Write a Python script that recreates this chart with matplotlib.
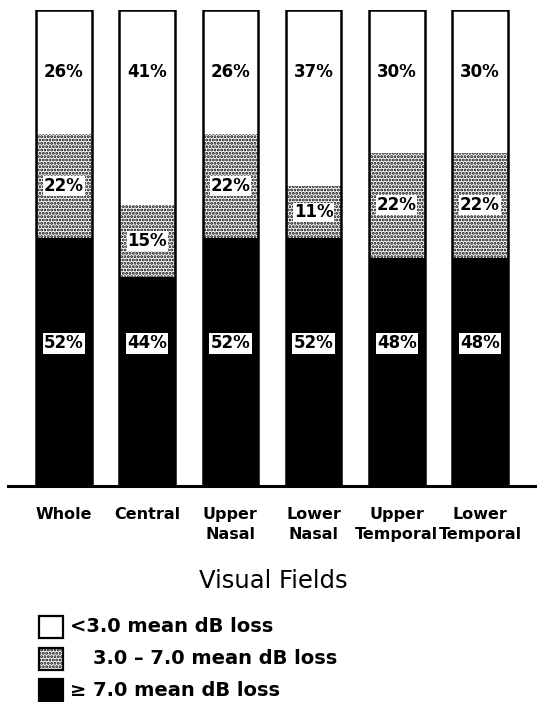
import matplotlib.pyplot as plt
from matplotlib.patches import Rectangle
import numpy as np

plt.rcParams['hatch.linewidth'] = 1.4

# percent of eyes in each loss group, per visual field region
fields = ['Whole', 'Central', 'Upper\nNasal', 'Lower\nNasal', 'Upper\nTemporal', 'Lower\nTemporal']
severe = [52, 44, 52, 52, 48, 48]     # >= 7.0 dB
moderate = [22, 15, 22, 11, 22, 22]   # 3.0 - 7.0 dB
mild = [26, 41, 26, 37, 30, 30]       # < 3.0 dB
legend_labels = ['<3.0 mean dB loss', '3.0 \u2013 7.0 mean dB loss', '\u2265 7.0 mean dB loss']

x = np.arange(len(fields))
severe = np.array(severe)
moderate = np.array(moderate)
mild = np.array(mild)
total = severe + moderate + mild

fig = plt.figure(figsize=(5.42, 7.02), dpi=100)
ax = fig.add_axes([0, 0.3077, 1, 0.6781])

w = 0.67
ax.bar(x, severe, w, color='black', linewidth=0)
ax.bar(x, moderate, w, bottom=severe, color='white', edgecolor='black',
       hatch='.....', linewidth=0)
ax.bar(x, mild, w, bottom=severe + moderate, color='white', linewidth=0)
ax.bar(x, total, w, fill=False, edgecolor='black', linewidth=1.8)

pct_font = dict(family='DejaVu Sans', fontweight='bold', fontsize=12, ha='center', va='center')
for i in x:
    ax.text(i, total[i] - 13, f'{mild[i]}%', **pct_font)
    ax.text(i, severe[i] + moderate[i] / 2, f'{moderate[i]}%',
            bbox=dict(facecolor='white', edgecolor='none', pad=0.5), **pct_font)
    ax.text(i, 30, f'{severe[i]}%',
            bbox=dict(facecolor='white', edgecolor='none', pad=1.0), **pct_font)

ax.set_xlim(-0.769, 5.745)
ax.set_ylim(0, 100)
ax.axhline(0, xmin=8 / 542, xmax=535 / 542, color='black', linewidth=2.2, clip_on=False)
for s in ax.spines.values():
    s.set_visible(False)
ax.set_yticks([])
ax.set_xticks(x)
ax.set_xticklabels(fields, family='DejaVu Sans', fontweight='bold', fontsize=11.5,
                   linespacing=1.45, va='top')
ax.tick_params(axis='x', length=0, pad=15)

fig.text(273 / 542, 1 - 581 / 702, 'Visual Fields', fontsize=17.5, ha='center', va='center',
         family='DejaVu Sans')

# legend keys and labels
rows = [627, 659, 690]
hatches = [None, '.....', None]
faces = ['white', 'white', 'black']
text_x = [70, 93, 70]
for r, lab, h, fc, tx in zip(rows, legend_labels, hatches, faces, text_x):
    y = 1 - r / 702
    box = Rectangle((39 / 542, y - 11 / 702), 24 / 542, 22 / 702, transform=fig.transFigure,
                    facecolor=fc, edgecolor='black', linewidth=1.6, hatch=h)
    fig.patches.append(box)
    fig.text(tx / 542, y, lab, fontsize=14, ha='left', va='center',
             family='DejaVu Sans', fontweight='bold')

fig.savefig('out.png', dpi=100)
